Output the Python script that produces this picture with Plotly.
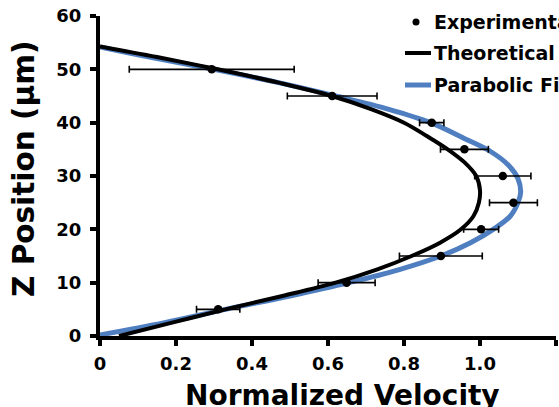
import plotly.graph_objects as go

# Measured velocity profile (normalized velocity vs. height in the channel)
z_exp = [5, 10, 15, 20, 25, 30, 35, 40, 45, 50]
v_exp = [0.311, 0.649, 0.897, 1.003, 1.088, 1.060, 0.959, 0.873, 0.611, 0.294]
v_err = [0.057, 0.075, 0.109, 0.046, 0.063, 0.074, 0.063, 0.032, 0.118, 0.217]

# Theoretical profile
z_theory = [0, 2.5, 5, 7.5, 10, 12.5, 15, 17.5, 20, 22.5, 25, 27.3,
            30, 32.5, 35, 37.5, 40, 42.5, 45, 47.5, 50, 52.3, 54.3]
v_theory = [0.05, 0.19, 0.33, 0.48, 0.62, 0.73, 0.82, 0.895, 0.95, 0.983, 0.997, 1.0,
            0.99, 0.96, 0.915, 0.86, 0.80, 0.715, 0.61, 0.47, 0.31, 0.15, 0.0]

# Parabolic fit to the measurements
z_fit = [0.2, 2.5, 5, 7.5, 10, 12.5, 15, 17.5, 20, 22.5, 25, 27,
         29.5, 32, 34.5, 37, 40, 42.5, 45, 47.5, 50, 52.3, 54.2]
v_fit = [0.0, 0.17, 0.33, 0.50, 0.655, 0.79, 0.897, 0.975, 1.035, 1.08, 1.10, 1.107,
         1.10, 1.075, 1.03, 0.96, 0.87, 0.76, 0.62, 0.47, 0.30, 0.13, 0.0]

x_tickvals = [0, 0.2, 0.4, 0.6, 0.8, 1.0, 1.2]
x_ticktext = ["0", "0.2", "0.4", "0.6", "0.8", "1.0", "1.2"]
y_tickvals = [0, 10, 20, 30, 40, 50, 60]

legend_labels = ["Experimental", "Theoretical", "Parabolic Fit"]

FONT = "DejaVu Sans"
BLUE = "#4f7fc0"

W, H = 559, 407
ML, MR, MT, MB = 100, 3, 16, 71
PW, PH = W - ML - MR, H - MT - MB


def px_x(px):
    """Horizontal pixel position -> paper coordinate."""
    return (px - ML) / PW


def px_y(py):
    """Vertical pixel position (from top) -> paper coordinate."""
    return (H - MB - py) / PH


fig = go.Figure()

fig.add_trace(go.Scatter(
    x=v_fit, y=z_fit, mode="lines", name=legend_labels[2],
    line=dict(color=BLUE, width=5, shape="spline", smoothing=1.0),
))
fig.add_trace(go.Scatter(
    x=v_theory, y=z_theory, mode="lines", name=legend_labels[1],
    line=dict(color="black", width=4, shape="spline", smoothing=1.0),
))
fig.add_trace(go.Scatter(
    x=v_exp, y=z_exp, mode="markers", name=legend_labels[0],
    marker=dict(color="black", size=8.5),
    error_x=dict(type="data", array=v_err, color="black", thickness=1.6, width=3.5),
))

axis_common = dict(
    showgrid=False, zeroline=False, showline=True, linecolor="black", linewidth=4,
    ticks="outside", ticklen=6, tickwidth=4, tickcolor="black",
    tickfont=dict(family=FONT, size=18, color="black", weight="bold"),
)

# Key in the upper right corner (runs past the right edge of the figure)
legend_font = dict(family=FONT, size=19, color="black", weight="bold")
row_y = [22, 53, 85]
key_shapes = [
    dict(type="circle", xref="paper", yref="paper",
         x0=px_x(412.5), x1=px_x(419.5), y0=px_y(row_y[0] + 3.5), y1=px_y(row_y[0] - 3.5),
         fillcolor="black", line=dict(width=0)),
    dict(type="line", xref="paper", yref="paper",
         x0=px_x(405), x1=px_x(431), y0=px_y(row_y[1]), y1=px_y(row_y[1]),
         line=dict(color="black", width=4)),
    dict(type="line", xref="paper", yref="paper",
         x0=px_x(405), x1=px_x(431), y0=px_y(row_y[2]), y1=px_y(row_y[2]),
         line=dict(color=BLUE, width=5)),
]
key_texts = [
    dict(text=lab, xref="paper", yref="paper", x=px_x(432), y=px_y(yy),
         xanchor="left", yanchor="middle", showarrow=False, font=legend_font)
    for lab, yy in zip(legend_labels, row_y)
]

fig.update_layout(
    width=W, height=H,
    margin=dict(l=ML, r=MR, t=MT, b=MB),
    paper_bgcolor="white", plot_bgcolor="white",
    xaxis=dict(range=[0, 1.2], tickvals=x_tickvals, ticktext=x_ticktext,
               ticklabelstandoff=2, **axis_common),
    yaxis=dict(range=[0, 60], tickvals=y_tickvals, ticklabelstandoff=5, **axis_common),
    showlegend=False,
    shapes=key_shapes,
    annotations=key_texts + [
        dict(text="Normalized Velocity", xref="paper", yref="paper",
             x=px_x(342.5), y=px_y(377), xanchor="center", yanchor="top", showarrow=False,
             font=dict(family=FONT, size=28, color="black", weight="bold")),
        dict(text="Z Position (μm)", xref="paper", yref="paper",
             x=px_x(24), y=px_y(169), xanchor="center", yanchor="middle", showarrow=False,
             textangle=-90,
             font=dict(family=FONT, size=29.5, color="black", weight="bold")),
    ],
)

fig.write_html("out.html")
